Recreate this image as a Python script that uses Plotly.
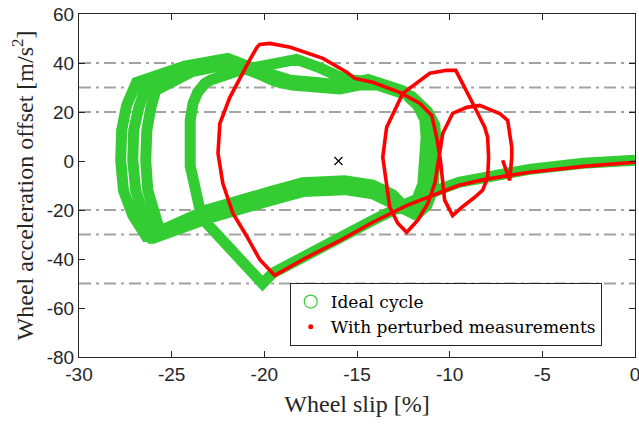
import plotly.graph_objects as go

# ---------------- data ----------------
# Ideal cycle (green): initial braking branch, inner arc, then three repeated cycles
ideal_slip = [
    0.0, -2.8, -5.7, -8.1, -9.5, -10.5, -11.6, -12.3, -14.15, -15.9, -17.7, -19.55, -20.1,
    -20.7, -21.3, -21.7, -22.57, -23.1, -23.5, -23.75, -24.0, -24.0, -24.0, -23.85, -23.6, -23.2, -22.9,
    -21.33, -19.7, -18.26, -17.0, -15.67,
    -14.15, -12.32, -11.46, -11.07, -11.0, -11.07, -11.18, -11.5, -12.05,
    -13.07, -14.15, -15.66, -17.93, -19.71, -23.1, -26.2,
    -26.4, -27.1, -27.6, -27.75, -27.7, -27.43, -26.9,
    -24.3, -21.97, -20.5, -19.5, -18.6, -17.2, -15.93,
    -13.9, -12.05, -11.2, -10.8, -10.73, -10.8, -10.91, -11.23, -11.8,
    -13.07, -14.15, -15.66, -17.93, -19.71, -23.1, -26.0,
    -26.07, -26.5, -26.94, -27.1, -27.05, -26.77, -26.4,
    -24.1, -21.9, -20.4, -19.4, -18.5, -17.2, -15.93,
    -14.4, -12.6, -11.73, -11.34, -11.27, -11.34, -11.45, -11.77, -12.3,
    -13.07, -14.15, -15.66, -17.93, -19.71, -23.1, -25.64,
    -25.64, -25.86, -26.29, -26.4, -26.34, -26.13, -25.86,
    -23.9, -21.8, -20.3, -19.4, -18.5, -17.2, -15.93,
    -14.15, -12.32, -11.46, -11.07, -11.0, -11.07, -11.18,
]
ideal_acc = [
    0.3, -0.9, -3.4, -6.2, -8.7, -11.5, -14.8, -17.3, -24.2, -31.1, -37.7, -45.8, -50.0,
    -45.4, -40.6, -36.4, -31.1, -25.5, -19.0, -12.0, -2.0, 8.4, 16.6, 23.5, 28.0, 31.7, 33.0,
    37.0, 39.9, 41.5, 38.0, 33.5,
    32.1, 27.6, 21.5, 15.8, 8.4, 0.3, -10.7, -16.9, -20.9,
    -15.6, -11.6, -9.9, -10.7, -14.4, -21.8, -29.9,
    -30.5, -22.2, -12.0, 0.3, 12.5, 22.7, 32.1,
    38.7, 41.9, 37.5, 34.5, 33.0, 32.0, 31.0,
    31.0, 26.4, 20.3, 14.6, 7.2, -0.9, -11.9, -18.1, -22.1,
    -17.4, -13.4, -11.7, -12.5, -16.2, -23.6, -31.5,
    -31.5, -22.2, -12.0, 0.3, 12.5, 21.9, 30.1,
    37.5, 40.8, 36.5, 33.5, 32.0, 31.0, 30.2,
    33.3, 28.8, 22.7, 17.0, 9.6, 1.5, -9.5, -15.7, -19.7,
    -13.8, -9.8, -8.1, -8.9, -12.6, -20.0, -28.6,
    -28.6, -22.2, -12.0, 0.3, 12.5, 21.5, 28.8,
    36.5, 39.8, 35.5, 32.5, 31.0, 30.0, 29.4,
    32.1, 27.6, 21.5, 15.8, 8.4, 0.3, -10.7,
]

# Perturbed measurements (red)
perturbed_slip = [
    0.0, -2.8, -5.7, -8.1, -9.5, -10.5, -11.6, -12.3, -14.15, -15.9, -17.7, -19.44,
    -20.25, -20.95, -21.7, -22.24, -22.5, -22.4, -21.86, -21.3, -20.8, -20.4, -20.25, -19.7,
    -18.6, -16.84, -15.55, -15.12, -14.15, -12.7, -11.6, -10.97, -10.7, -10.5, -10.37, -10.27, -9.84,
    -9.35, -8.65, -8.22, -7.95, -7.9, -7.95, -8.11, -8.75, -9.29, -9.67, -10.16, -11.07, -12.53,
    -13.4, -13.61, -13.5, -13.23, -12.8, -12.32,
    -11.72, -11.18, -10.8, -10.64, -10.37, -9.84, -9.08, -8.38, -7.3, -6.87, -6.65, -6.65, -6.76, -7.14,
]
perturbed_acc = [
    -0.5, -2.2, -4.6, -7.5, -9.9, -12.8, -16.0, -18.1, -25.0, -32.4, -39.3, -46.7,
    -40.2, -30.7, -21.3, -9.1, 3.1, 15.3, 26.0, 34.2, 41.1, 46.4, 47.6, 48.0,
    46.4, 41.9, 36.2, 33.7, 32.1, 28.0, 23.5, 18.6, 9.7, 0.3, -9.9, -16.0, -22.3,
    -18.9, -14.8, -11.9, -6.7, 1.5, 9.7, 13.8, 23.5, 31.7, 37.0, 37.0, 35.8, 27.6,
    13.8, 1.5, -5.0, -18.9, -25.4, -29.1,
    -24.2, -17.3, -9.1, -0.9, 11.3, 19.4, 21.9, 22.7, 19.4, 16.6, 5.6, 1.5, -7.9, 0.3,
]

center_slip = [-16.0]
center_acc = [0.0]

threshold_levels = [40, 30, 20, -20, -30, -50]

x_tick_vals = [-30, -25, -20, -15, -10, -5, 0]
x_tick_text = ['-30', '-25', '-20', '-15', '-10', '-5', '0']
y_tick_vals = [-80, -60, -40, -20, 0, 20, 40, 60]
y_tick_text = ['-80', '-60', '-40', '-20', '0', '20', '40', '60']

series_names = ['Ideal cycle', 'With perturbed measurements']

# ---------------- figure ----------------
GREEN = '#33CC33'
RED = '#FF0000'
AX = '#262626'
SERIF = 'Liberation Serif, Times New Roman, serif'
LEG_SERIF = 'DejaVu Serif, serif'
SANS = 'Liberation Sans, Arial, sans-serif'

fig = go.Figure()

fig.add_trace(go.Scatter(
    x=ideal_slip, y=ideal_acc, mode='lines',
    line=dict(color=GREEN, width=11), showlegend=False, hoverinfo='skip'))

fig.add_trace(go.Scatter(
    x=perturbed_slip, y=perturbed_acc, mode='lines',
    line=dict(color=RED, width=3.6), showlegend=False, hoverinfo='skip'))

fig.add_trace(go.Scatter(
    x=center_slip, y=center_acc, mode='markers',
    marker=dict(symbol='x-thin', size=8, line=dict(color='black', width=1.2)),
    showlegend=False, hoverinfo='skip'))

# legend entries
fig.add_trace(go.Scatter(
    x=[None], y=[None], mode='markers', name=series_names[0],
    marker=dict(symbol='circle-open', size=13, color=GREEN, line=dict(width=1.2))))
fig.add_trace(go.Scatter(
    x=[None], y=[None], mode='markers', name=series_names[1],
    marker=dict(symbol='circle', size=5, color=RED)))

for lvl in threshold_levels:
    fig.add_shape(type='line', xref='x domain', x0=0, x1=1, yref='y', y0=lvl, y1=lvl,
                  line=dict(color='#A3A3A3', width=2, dash='12px,5px,3px,5px'),
                  layer='below')

fig.update_layout(
    width=639, height=424,
    margin=dict(l=79, r=4, t=14, b=67, autoexpand=False),
    paper_bgcolor='white', plot_bgcolor='white',
    showlegend=True,
    legend=dict(x=0.379, y=0.2156, xanchor='left', yanchor='top',
                bgcolor='white', bordercolor=AX, borderwidth=1,
                font=dict(family=LEG_SERIF, size=17, color='black'),
                tracegroupgap=0, itemsizing='trace'),
)

fig.update_xaxes(
    range=[-30, 0], tickvals=x_tick_vals, ticktext=x_tick_text,
    ticks='inside', ticklen=6, tickcolor=AX, tickwidth=1,
    showline=True, linecolor=AX, linewidth=1, mirror='allticks',
    showgrid=False, zeroline=False, automargin=False, ticklabeloverflow='allow',
    tickfont=dict(family=SANS, size=19, color=AX),
    title=dict(text='Wheel slip [%]', font=dict(family=SERIF, size=24, color=AX), standoff=11),
)
fig.update_yaxes(
    range=[-80, 60], tickvals=y_tick_vals, ticktext=y_tick_text,
    ticks='inside', ticklen=6, tickcolor=AX, tickwidth=1,
    showline=True, linecolor=AX, linewidth=1, mirror='allticks',
    showgrid=False, zeroline=False, automargin=False, ticklabeloverflow='allow',
    tickfont=dict(family=SANS, size=19, color=AX),
    title=dict(text='Wheel acceleration offset [m/s<sup>2</sup>]',
               font=dict(family=SERIF, size=24, color=AX), standoff=6),
)

fig.write_html(
    'out.html',
    config={'displayModeBar': False},
    post_script="document.body.style.margin='0';document.body.style.padding='0';"
                "document.body.style.overflow='hidden';",
)
